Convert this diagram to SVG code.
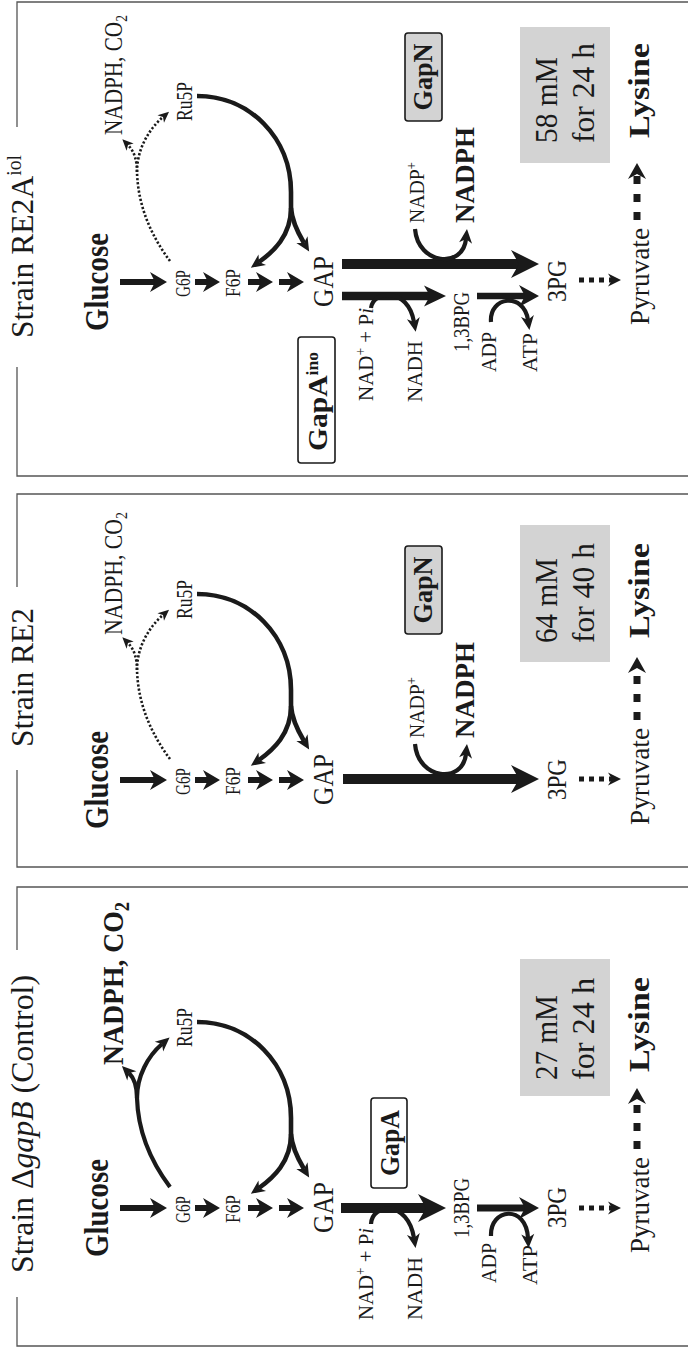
<svg xmlns="http://www.w3.org/2000/svg" width="688" height="1348" viewBox="0 0 688 1348">
<style>
text{font-family:"Liberation Serif","Times New Roman",serif;fill:#1a1a1a}
.b{font-weight:bold}
.fr{fill:none;stroke:#555;stroke-width:1.3}
.a{fill:none;stroke:#1a1a1a;stroke-linecap:butt}
.w6{stroke-width:6}
.w65{stroke-width:6.5}
.w7{stroke-width:7}
.w85{stroke-width:8.5}
.w10{stroke-width:10}
.c4{stroke-width:4.2}
.c45{stroke-width:4.6}
.dot{stroke-width:2.6;stroke-dasharray:2.2 2}
.d5{stroke-width:5;stroke-dasharray:5 5}
.d7{stroke-width:7;stroke-dasharray:8 10}
.gbox{fill:#d3d3d3}
.ebox{stroke:#1a1a1a;stroke-width:1.6}
.hd{fill:#1a1a1a;stroke:none}
</style>
<defs>
<marker id="hm" markerUnits="userSpaceOnUse" markerWidth="17" markerHeight="20" refX="5" refY="10" orient="auto" overflow="visible"><path class="hd" d="M0,0 L17,10 L0,20 L5,10 Z"/></marker>
<marker id="hb" markerUnits="userSpaceOnUse" markerWidth="28" markerHeight="28" refX="8" refY="14" orient="auto" overflow="visible"><path class="hd" d="M0,0 L28,14 L0,28 L8,14 Z"/></marker>
<marker id="hm2" markerUnits="userSpaceOnUse" markerWidth="22" markerHeight="21" refX="6" refY="10.5" orient="auto" overflow="visible"><path class="hd" d="M0,0 L22,10.5 L0,21 L6,10.5 Z"/></marker>
<marker id="hs" markerUnits="userSpaceOnUse" markerWidth="20" markerHeight="22" refX="6" refY="11" orient="auto" overflow="visible"><path class="hd" d="M0,0 L20,11 L0,22 L6,11 Z"/></marker>
<marker id="hd" markerUnits="userSpaceOnUse" markerWidth="13" markerHeight="13" refX="4" refY="6.5" orient="auto" overflow="visible"><path class="hd" d="M0,0 L13,6.5 L0,13 L4,6.5 Z"/></marker>
<marker id="hd2" markerUnits="userSpaceOnUse" markerWidth="16" markerHeight="18" refX="5" refY="9" orient="auto" overflow="visible"><path class="hd" d="M0,0 L16,9 L0,18 L5,9 Z"/></marker>
<marker id="hc" markerUnits="userSpaceOnUse" markerWidth="14" markerHeight="13" refX="4" refY="6.5" orient="auto" overflow="visible"><path class="hd" d="M0,0 L14,6.5 L0,13 L4,6.5 Z"/></marker>
<marker id="hcs" markerUnits="userSpaceOnUse" markerWidth="11" markerHeight="10" refX="3" refY="5" orient="auto" overflow="visible"><path class="hd" d="M0,0 L11,5 L0,10 L3,5 Z"/></marker>
</defs>
<rect width="688" height="1348" fill="#fff"/>
<g transform="translate(0,1348) rotate(-90)">

<!-- ===== Control panel ===== -->
<g id="panel-control">
  <path class="fr" d="M51,17 H2 V688 M461,688 V17 H398"/>
  <g id="title-control"><text x="75" y="33" font-size="32" textLength="298" lengthAdjust="spacingAndGlyphs">Strain Δ<tspan font-style="italic">gapB</tspan> (Control)</text></g>
  <g id="c-glucose"><text x="91" y="108" font-size="33" class="b" textLength="98" lengthAdjust="spacingAndGlyphs">Glucose</text></g>
  <g id="c-g6p"><text x="125" y="190" font-size="22" textLength="27" lengthAdjust="spacingAndGlyphs">G6P</text></g>
  <g id="c-f6p"><text x="125" y="240" font-size="21" textLength="28" lengthAdjust="spacingAndGlyphs">F6P</text></g>
  <g id="c-gap"><text x="115" y="333" font-size="29" textLength="51" lengthAdjust="spacingAndGlyphs">GAP</text></g>
  <g id="c-ru5p"><text x="301" y="192" font-size="24" textLength="39" lengthAdjust="spacingAndGlyphs">Ru5P</text></g>
  <g id="c-nadphco2"><text x="283" y="123" font-size="30" class="b" textLength="163" lengthAdjust="spacingAndGlyphs">NADPH, CO<tspan dy="6" font-size="20">2</tspan></text></g>
  <g id="c-nad"><text x="28" y="373" font-size="22" textLength="92" lengthAdjust="spacingAndGlyphs">NAD<tspan dy="-8" font-size="14">+</tspan><tspan dy="8"> + P</tspan><tspan font-style="italic">i</tspan></text></g>
  <g id="c-nadh"><text x="28" y="422" font-size="21" textLength="63" lengthAdjust="spacingAndGlyphs">NADH</text></g>
  <g id="c-gapa"><rect class="ebox" x="160" y="371" width="90" height="36" rx="3" fill="#fff"/><text x="172" y="399" font-size="27" class="b" textLength="66" lengthAdjust="spacingAndGlyphs">GapA</text></g>
  <g id="c-13bpg"><text x="110" y="469" font-size="23" textLength="60" lengthAdjust="spacingAndGlyphs">1,3BPG</text></g>
  <g id="c-adp"><text x="65" y="496" font-size="21" textLength="40" lengthAdjust="spacingAndGlyphs">ADP</text></g>
  <g id="c-atp"><text x="63" y="537" font-size="21" textLength="40" lengthAdjust="spacingAndGlyphs">ATP</text></g>
  <g id="c-3pg"><text x="120" y="566" font-size="28" textLength="41" lengthAdjust="spacingAndGlyphs">3PG</text></g>
  <g id="c-pyruvate"><text x="95" y="649" font-size="28" textLength="96" lengthAdjust="spacingAndGlyphs">Pyruvate</text></g>
  <g id="c-lysine"><text x="276" y="649" font-size="30" class="b" textLength="95" lengthAdjust="spacingAndGlyphs">Lysine</text></g>
  <g id="c-titer"><rect class="gbox" x="252" y="520" width="137" height="90"/><text x="268" y="557" font-size="31" textLength="85" lengthAdjust="spacingAndGlyphs">27 mM</text><text x="268" y="594" font-size="31" textLength="102" lengthAdjust="spacingAndGlyphs">for 24 h</text></g>
  <g id="c-connectors">
    <line class="a w6" x1="140" y1="120" x2="140" y2="155" marker-end="url(#hm)"/>
    <line class="a w6" x1="140" y1="195" x2="140" y2="208" marker-end="url(#hm)"/>
    <line class="a w6" x1="140" y1="248" x2="140" y2="261" marker-end="url(#hm)"/>
    <line class="a w6" x1="140" y1="279" x2="140" y2="292" marker-end="url(#hm)"/>
    <path class="a c45" d="M326,197 C326,250 284,291 230,291 L214,291"/>
    <path class="a c45" d="M214,291 C186,291 170,273 160,259" marker-end="url(#hc)"/>
    <path class="a c45" d="M214,291 C200,292 189,298 179,304" marker-end="url(#hc)"/>
    <path class="a c4" d="M161,170 C185,152 215,138 250,137"/>
    <path class="a c4" d="M250,137 C262,137 270,134 275,129" marker-end="url(#hc)"/>
    <path class="a c4" d="M250,137 C272,137 292,148 304,162" marker-end="url(#hc)"/>
    <line class="a w10" x1="140" y1="341" x2="140" y2="426" marker-end="url(#hb)"/>
    <line class="a w7" x1="140" y1="477" x2="140" y2="525" marker-end="url(#hs)"/>
    <line class="a d5" x1="140" y1="579" x2="140" y2="612" marker-end="url(#hd)"/>
    <line class="a d7" x1="199" y1="637" x2="249" y2="637" marker-end="url(#hd2)"/>
    <path class="a c4" d="M124,371 C145,372 148,408 110,414" marker-end="url(#hc)"/>
    <path class="a c4" d="M112,491 C140,490 144,526 110,528" marker-end="url(#hc)"/>
  </g>
</g>

<!-- ===== RE2 panel ===== -->
<g id="panel-re2">
  <path class="fr" d="M578,17 H481 V688 M854,688 V17 H761"/>
  <g id="title-re2"><text x="601" y="33" font-size="32" textLength="139" lengthAdjust="spacingAndGlyphs">Strain RE2</text></g>
  <g transform="translate(428,0)">
    <g id="r-glucose"><text x="91" y="108" font-size="33" class="b" textLength="98" lengthAdjust="spacingAndGlyphs">Glucose</text></g>
    <g id="r-g6p"><text x="125" y="190" font-size="22" textLength="27" lengthAdjust="spacingAndGlyphs">G6P</text></g>
    <g id="r-f6p"><text x="125" y="240" font-size="21" textLength="28" lengthAdjust="spacingAndGlyphs">F6P</text></g>
    <g id="r-gap"><text x="115" y="333" font-size="29" textLength="51" lengthAdjust="spacingAndGlyphs">GAP</text></g>
    <g id="r-ru5p"><text x="301" y="192" font-size="24" textLength="39" lengthAdjust="spacingAndGlyphs">Ru5P</text></g>
    <g id="r-nadphco2"><text x="285" y="122" font-size="25" textLength="123" lengthAdjust="spacingAndGlyphs">NADPH, CO<tspan dy="5" font-size="16">2</tspan></text></g>
    <g id="r-col-connectors">
      <line class="a w6" x1="140" y1="120" x2="140" y2="155" marker-end="url(#hm)"/>
      <line class="a w6" x1="140" y1="195" x2="140" y2="208" marker-end="url(#hm)"/>
      <line class="a w6" x1="140" y1="248" x2="140" y2="261" marker-end="url(#hm)"/>
      <line class="a w6" x1="140" y1="279" x2="140" y2="292" marker-end="url(#hm)"/>
      <path class="a c45" d="M326,197 C326,250 284,291 230,291 L214,291"/>
      <path class="a c45" d="M214,291 C186,291 170,273 160,259" marker-end="url(#hc)"/>
      <path class="a c45" d="M214,291 C200,292 189,298 179,304" marker-end="url(#hc)"/>
      <path class="a dot" d="M161,170 C185,152 215,138 250,137"/>
      <path class="a dot" d="M250,137 C262,137 271,134 277,128" marker-end="url(#hcs)"/>
      <path class="a dot" d="M250,137 C272,137 292,148 305,163" marker-end="url(#hcs)"/>
    </g>
  </g>
  <g id="r-gapn"><rect class="ebox gbox" x="714" y="405" width="88" height="37" rx="3"/><text x="724.5" y="432" font-size="28" class="b" textLength="67" lengthAdjust="spacingAndGlyphs">GapN</text></g>
  <g id="r-nadp"><text x="610" y="424" font-size="21" textLength="61" lengthAdjust="spacingAndGlyphs">NADP<tspan dy="-8" font-size="14">+</tspan></text></g>
  <g id="r-nadph"><text x="610" y="474" font-size="27" class="b" textLength="96" lengthAdjust="spacingAndGlyphs">NADPH</text></g>
  <g id="r-3pg"><text x="548" y="566" font-size="28" textLength="41" lengthAdjust="spacingAndGlyphs">3PG</text></g>
  <g id="r-pyruvate"><text x="523" y="649" font-size="28" textLength="97" lengthAdjust="spacingAndGlyphs">Pyruvate</text></g>
  <g id="r-lysine"><text x="710" y="649" font-size="30" class="b" textLength="95" lengthAdjust="spacingAndGlyphs">Lysine</text></g>
  <g id="r-titer"><rect class="gbox" x="686" y="520" width="137" height="90"/><text x="705" y="557" font-size="31" textLength="85" lengthAdjust="spacingAndGlyphs">64 mM</text><text x="705" y="594" font-size="31" textLength="100" lengthAdjust="spacingAndGlyphs">for 40 h</text></g>
  <g id="r-connectors">
    <line class="a w10" x1="569" y1="343" x2="569" y2="519" marker-end="url(#hb)"/>
    <path class="a c4" d="M604,415 C568,418 564,463 594,466" marker-end="url(#hc)"/>
    <line class="a d5" x1="569" y1="579" x2="569" y2="612" marker-end="url(#hd)"/>
    <line class="a d7" x1="628" y1="637" x2="680" y2="637" marker-end="url(#hd2)"/>
  </g>
</g>

<!-- ===== RE2A iol panel ===== -->
<g id="panel-re2a">
  <path class="fr" d="M981,17 H872 V688 M1346,688 V17 H1221"/>
  <g id="title-re2a"><text x="1010" y="33" font-size="32" textLength="183" lengthAdjust="spacingAndGlyphs">Strain RE2A<tspan dy="-12" font-size="20">iol</tspan></text></g>
  <g transform="translate(926,0)">
    <g id="i-glucose"><text x="91" y="108" font-size="33" class="b" textLength="98" lengthAdjust="spacingAndGlyphs">Glucose</text></g>
    <g id="i-g6p"><text x="125" y="190" font-size="22" textLength="27" lengthAdjust="spacingAndGlyphs">G6P</text></g>
    <g id="i-f6p"><text x="125" y="240" font-size="21" textLength="28" lengthAdjust="spacingAndGlyphs">F6P</text></g>
    <g id="i-gap"><text x="115" y="333" font-size="29" textLength="51" lengthAdjust="spacingAndGlyphs">GAP</text></g>
    <g id="i-ru5p"><text x="301" y="192" font-size="24" textLength="39" lengthAdjust="spacingAndGlyphs">Ru5P</text></g>
    <g id="i-nadphco2"><text x="287" y="122" font-size="25" textLength="120" lengthAdjust="spacingAndGlyphs">NADPH, CO<tspan dy="5" font-size="16">2</tspan></text></g>
    <g id="i-col-connectors">
      <line class="a w6" x1="140" y1="120" x2="140" y2="155" marker-end="url(#hm)"/>
      <line class="a w6" x1="140" y1="195" x2="140" y2="208" marker-end="url(#hm)"/>
      <line class="a w6" x1="140" y1="248" x2="140" y2="261" marker-end="url(#hm)"/>
      <line class="a w6" x1="140" y1="279" x2="140" y2="292" marker-end="url(#hm)"/>
      <path class="a c45" d="M326,197 C326,250 284,291 230,291 L214,291"/>
      <path class="a c45" d="M214,291 C186,291 170,273 160,259" marker-end="url(#hc)"/>
      <path class="a c45" d="M214,291 C200,292 189,298 179,304" marker-end="url(#hc)"/>
      <path class="a dot" d="M161,170 C185,152 215,138 250,137"/>
      <path class="a dot" d="M250,137 C262,137 271,134 277,128" marker-end="url(#hcs)"/>
      <path class="a dot" d="M250,137 C272,137 292,148 305,163" marker-end="url(#hcs)"/>
    </g>
  </g>
  <g id="i-gapaino"><rect class="ebox" x="885" y="298" width="126" height="37" rx="3" fill="#fff"/><text x="897" y="327" font-size="27" class="b" textLength="99" lengthAdjust="spacingAndGlyphs">GapA<tspan dy="-9" font-size="16">ino</tspan></text></g>
  <g id="i-gapn"><rect class="ebox gbox" x="1227" y="405" width="88" height="37" rx="3"/><text x="1237.5" y="432" font-size="28" class="b" textLength="67" lengthAdjust="spacingAndGlyphs">GapN</text></g>
  <g id="i-nadp"><text x="1125" y="424" font-size="21" textLength="61" lengthAdjust="spacingAndGlyphs">NADP<tspan dy="-8" font-size="14">+</tspan></text></g>
  <g id="i-nadph"><text x="1125" y="474" font-size="27" class="b" textLength="96" lengthAdjust="spacingAndGlyphs">NADPH</text></g>
  <g id="i-nad"><text x="947" y="373" font-size="22" textLength="93" lengthAdjust="spacingAndGlyphs">NAD<tspan dy="-8" font-size="14">+</tspan><tspan dy="8"> + P</tspan><tspan font-style="italic">i</tspan></text></g>
  <g id="i-nadh"><text x="946" y="422" font-size="21" textLength="61" lengthAdjust="spacingAndGlyphs">NADH</text></g>
  <g id="i-13bpg"><text x="996" y="469" font-size="23" textLength="60" lengthAdjust="spacingAndGlyphs">1,3BPG</text></g>
  <g id="i-adp"><text x="976" y="496" font-size="21" textLength="40" lengthAdjust="spacingAndGlyphs">ADP</text></g>
  <g id="i-atp"><text x="976" y="537" font-size="21" textLength="39" lengthAdjust="spacingAndGlyphs">ATP</text></g>
  <g id="i-3pg"><text x="1046" y="566" font-size="28" textLength="42" lengthAdjust="spacingAndGlyphs">3PG</text></g>
  <g id="i-pyruvate"><text x="1023" y="649" font-size="28" textLength="97" lengthAdjust="spacingAndGlyphs">Pyruvate</text></g>
  <g id="i-lysine"><text x="1210" y="649" font-size="30" class="b" textLength="95" lengthAdjust="spacingAndGlyphs">Lysine</text></g>
  <g id="i-titer"><rect class="gbox" x="1185" y="520" width="136" height="90"/><text x="1205" y="557" font-size="31" textLength="86" lengthAdjust="spacingAndGlyphs">58 mM</text><text x="1205" y="594" font-size="31" textLength="100" lengthAdjust="spacingAndGlyphs">for 24 h</text></g>
  <g id="i-connectors">
    <line class="a w10" x1="1084" y1="342" x2="1084" y2="519" marker-end="url(#hb)"/>
    <line class="a w85" x1="1052" y1="342" x2="1052" y2="430" marker-end="url(#hm2)"/>
    <line class="a w65" x1="1052" y1="477" x2="1052" y2="525" marker-end="url(#hs)"/>
    <path class="a c4" d="M1119,415 C1083,418 1079,463 1109,466" marker-end="url(#hc)"/>
    <path class="a c4" d="M1040,371 C1058,373 1061,408 1026,414" marker-end="url(#hc)"/>
    <path class="a c4" d="M1026,491 C1052,489 1056,524 1028,528" marker-end="url(#hc)"/>
    <line class="a d5" x1="1068" y1="579" x2="1068" y2="612" marker-end="url(#hd)"/>
    <line class="a d7" x1="1128" y1="637" x2="1174" y2="637" marker-end="url(#hd2)"/>
  </g>
</g>

</g>
</svg>
